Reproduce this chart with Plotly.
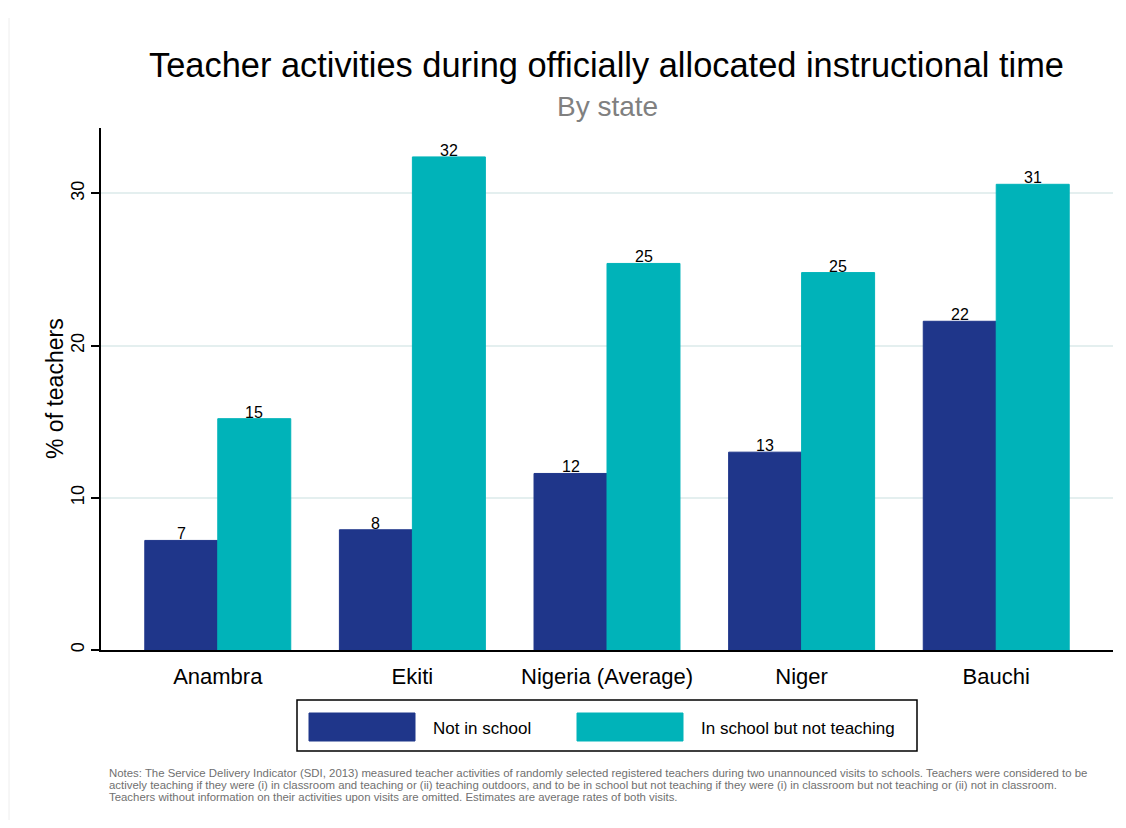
import plotly.graph_objects as go

# data
states = ["Anambra", "Ekiti", "Nigeria (Average)", "Niger", "Bauchi"]
not_in_school = [7.2, 7.9, 11.6, 13.0, 21.6]
in_school_not_teaching = [15.2, 32.4, 25.4, 24.8, 30.6]
series_names = ["Not in school", "In school but not teaching"]
y_ticks = [0, 10, 20, 30]

navy = "#1F368A"
teal = "#00B3B9"
font = "Liberation Sans, Arial, sans-serif"

notes = [
    "Notes: The Service Delivery Indicator (SDI, 2013) measured teacher activities of randomly selected registered "
    "teachers during two unannounced visits to schools. Teachers were considered to be",
    "actively teaching if they were (i) in classroom and teaching or (ii) teaching outdoors, and to be in school "
    "but not teaching if they were (i) in classroom but not teaching or (ii) not in classroom.",
    "Teachers without information on their activities upon visits are omitted. Estimates are average rates of both visits.",
]

fig = go.Figure()

# two bar series
for vals, name, col in [(not_in_school, series_names[0], navy),
                        (in_school_not_teaching, series_names[1], teal)]:
    fig.add_trace(go.Bar(
        x=states, y=vals, name=name,
        marker=dict(color=col, line=dict(color=col, width=1)),
    ))

# value labels sitting on the bar tops (rounded like the original)
for vals, shift in [(not_in_school, -36.5), (in_school_not_teaching, 36.5)]:
    for s, v in zip(states, vals):
        fig.add_annotation(x=s, y=v, text=f"{v:.0f}", showarrow=False,
                           xshift=shift, yanchor="bottom", yshift=-4,
                           font=dict(size=16, color="black"))

# page has an 8px body margin, so the figure is 16px smaller than the window
fig.update_layout(
    width=1110, height=812,
    margin=dict(l=93, r=5, t=120, b=170),
    paper_bgcolor="white", plot_bgcolor="white",
    barmode="group", bargap=0.25, bargroupgap=0,
    showlegend=False,
    font=dict(family=font, color="black"),
)

fig.update_xaxes(
    range=[-0.6, 4.6], showline=True, linecolor="black", linewidth=1.5,
    ticks="", tickfont=dict(size=22), showgrid=False, ticklabelstandoff=6,
)
fig.update_yaxes(
    range=[0, 34.3], tickvals=y_ticks, tickangle=-90,
    ticks="outside", ticklen=8, tickcolor="black", tickwidth=1.5,
    tickfont=dict(size=18), showline=True, linecolor="black", linewidth=1.5,
    gridcolor="#E4EFEF", gridwidth=2, zeroline=False,
)


def px_x(p):
    return (p - 101) / 1012


def px_y(p):
    return (650 - p) / 522


# y axis title
fig.add_annotation(text="% of teachers", xref="paper", yref="paper",
                   x=px_x(55), y=0.5, textangle=-90, showarrow=False,
                   xanchor="center", yanchor="middle", font=dict(size=23))

# title / subtitle
fig.add_annotation(text="Teacher activities during officially allocated instructional time",
                   xref="paper", yref="paper", x=px_x(606), y=px_y(65),
                   showarrow=False, font=dict(size=34.4, color="black"),
                   xanchor="center", yanchor="middle")
fig.add_annotation(text="By state", xref="paper", yref="paper",
                   x=px_x(607), y=px_y(106), showarrow=False,
                   font=dict(size=28, color="#808080"), xanchor="center", yanchor="middle")

# legend drawn as a framed box below the plot
fig.add_shape(type="rect", xref="paper", yref="paper",
              x0=px_x(297), x1=px_x(917), y0=px_y(751), y1=px_y(700),
              line=dict(color="black", width=1.5), fillcolor="white")
for x0, name, col in [(309, series_names[0], navy), (577, series_names[1], teal)]:
    fig.add_shape(type="rect", xref="paper", yref="paper",
                  x0=px_x(x0), x1=px_x(x0 + 106), y0=px_y(741), y1=px_y(713),
                  line=dict(color=col, width=1), fillcolor=col)
    fig.add_annotation(text=name, xref="paper", yref="paper",
                       x=px_x(x0 + 122), y=px_y(728), showarrow=False,
                       xanchor="left", yanchor="middle", font=dict(size=17))

# notes, one annotation per line for tight spacing
for line, py in zip(notes, [773, 785, 797]):
    fig.add_annotation(text=line, xref="paper", yref="paper",
                       x=px_x(107), y=px_y(py), showarrow=False, align="left",
                       xanchor="left", yanchor="middle",
                       font=dict(size=11.4, color="#707070",
                                 family="Liberation Sans Narrow, Arial Narrow, Liberation Sans, sans-serif"))

# faint outer frame line on the left
fig.add_shape(type="line", xref="paper", yref="paper",
              x0=px_x(9), x1=px_x(9), y0=px_y(820), y1=px_y(18),
              line=dict(color="#EEEEEE", width=1))

fig.write_html("out.html")
